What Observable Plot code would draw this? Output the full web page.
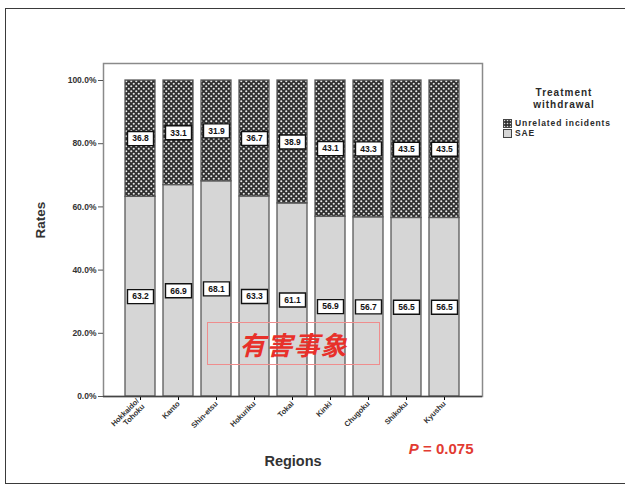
<!DOCTYPE html>
<html>
<head>
<meta charset="utf-8">
<script src="https://cdn.jsdelivr.net/npm/d3@7"></script>
<script src="https://cdn.jsdelivr.net/npm/@observablehq/plot@0.6"></script>
<style>
  html, body { margin: 0; padding: 0; background: #fff; overflow: hidden; }
  #wrap { position: relative; width: 625px; height: 490px; font-family: "Liberation Sans", Arial, sans-serif; }
  #outer { position: absolute; left: 5px; top: 8px; width: 660px; height: 476px; border: 1.5px solid #3a3a3a; box-sizing: border-box; }
  #chart { position: absolute; left: 0; top: 0; }
  #legend { position: absolute; left: 0; top: 0; font-weight: bold; color: #2a2a2a; }
  #legend .title { position: absolute; left: 500px; top: 87px; width: 128px; text-align: center; font-size: 10px; line-height: 11.5px; letter-spacing: 1px; }
  #legend .item { position: absolute; left: 503px; font-size: 8.5px; line-height: 9px; letter-spacing: 0.9px; white-space: nowrap; display: flex; align-items: center; gap: 3px; }
  #legend svg { display: block; }
  #stamp { position: absolute; left: 207px; top: 322px; width: 173px; height: 43px; border: 1px solid #ef8d8d; box-sizing: border-box;
           display: flex; align-items: center; justify-content: center; color: #e8302a; font-family: "Noto Sans CJK JP", sans-serif;
           font-weight: bold; font-style: italic; font-size: 26px; letter-spacing: 1px; }
</style>
</head>
<body>
<div id="wrap">
  <div id="outer"></div>
  <div id="chart"></div>
  <div id="stamp">有害事象</div>
  <div id="legend">
    <div class="title">Treatment<br>withdrawal</div>
    <div class="item" style="top:119px"><svg width="9" height="9"><rect x="0.5" y="0.5" width="8" height="8" fill="url(#chkL)" stroke="#444"/></svg>Unrelated incidents</div>
    <div class="item" style="top:129px"><svg width="9" height="9"><rect x="0.5" y="0.5" width="8" height="8" fill="#d6d6d6" stroke="#444"/></svg>SAE</div>
  </div>
</div>
<script>
const regions = ["Hokkaido/Tohoku", "Kanto", "Shin-etsu", "Hokuriku", "Tokai", "Kinki", "Chugoku", "Shikoku", "Kyushu"];
const saeValues = [63.2, 66.9, 68.1, 63.3, 61.1, 56.9, 56.7, 56.5, 56.5];
const unrelatedValues = [36.8, 33.1, 31.9, 36.7, 38.9, 43.1, 43.3, 43.5, 43.5];
const seriesNames = ["SAE", "Unrelated incidents"];
const yTicks = [0, 20, 40, 60, 80, 100];
const pText = "P = 0.075";

const data = [];
regions.forEach((r, i) => {
  data.push({region: r, type: seriesNames[0], value: saeValues[i]});
  data.push({region: r, type: seriesNames[1], value: unrelatedValues[i]});
});

const boxSymbol = { draw(ctx) { ctx.moveTo(-13, -7); ctx.lineTo(13, -7); ctx.lineTo(13, 7); ctx.lineTo(-13, 7); ctx.closePath(); } };

const font = "Liberation Sans, Arial, sans-serif";
const chart = Plot.plot({
  width: 625,
  height: 490,
  marginLeft: 103,
  marginRight: 143,
  marginTop: 80,
  marginBottom: 94,
  style: { fontFamily: font, background: "transparent", overflow: "visible" },
  x: { domain: regions, range: [103, 482], paddingInner: 0.21, paddingOuter: 0.59, label: null },
  y: { domain: [0, 100], label: null },
  color: { domain: seriesNames, range: ["#d6d6d6", "url(#chk)"] },
  marks: [
    Plot.frame({ stroke: "#8a8a8a", strokeWidth: 1.5, insetTop: -17 }),
    Plot.barY(data, Plot.stackY({ x: "region", y: "value", fill: "type", stroke: "#5a5a5a", strokeWidth: 1.3 })),
    Plot.dot(data, Plot.stackY({ x: "region", y: "value", symbol: boxSymbol, r: 5, fill: "white", stroke: "#111", strokeWidth: 1.4 })),
    Plot.text(data, Plot.stackY({ x: "region", y: "value", text: d => d.value.toFixed(1), fontSize: 8.5, fontWeight: "bold", fill: "#111" })),
    Plot.axisY({ ticks: yTicks, tickFormat: d => d.toFixed(1) + "%", tickSize: 5, tickPadding: 2, fontSize: 8.5, fontWeight: "bold", label: null, stroke: "#555", fill: "#333" }),
    Plot.axisX({ tickRotate: -45, tickSize: 4, tickPadding: 2, fontSize: 7.5, fontWeight: "bold", label: null, fill: "#333",
                 tickFormat: d => d.replace("/", "/\n"), lineHeight: 1.05 }),
    Plot.ruleY([0], { stroke: "#444", strokeWidth: 1.3 }),
    Plot.text(["Rates"], { frameAnchor: "left", dx: -63, rotate: -90, fontSize: 13.5, fontWeight: "bold", fill: "#333" }),
    Plot.text(["Regions"], { frameAnchor: "bottom", dy: 69, fontSize: 14.5, fontWeight: "bold", fill: "#333" }),
    Plot.text([pText], { frameAnchor: "bottom-right", dx: -9, dy: 57, textAnchor: "end", fontSize: 15, fontWeight: "bold", fill: "#e23b32" })
  ]
});

const defs = `
<defs>
  <pattern id="chk" width="5" height="5" patternUnits="userSpaceOnUse">
    <rect width="5" height="5" fill="#2f2f2f"/>
    <circle cx="1.25" cy="1.25" r="1.05" fill="#e8e8e8"/>
    <circle cx="3.75" cy="3.75" r="1.05" fill="#e8e8e8"/>
  </pattern>
  <pattern id="chkL" width="3" height="3" patternUnits="userSpaceOnUse">
    <rect width="3" height="3" fill="#333"/>
    <circle cx="1.5" cy="1.5" r="0.8" fill="#ddd"/>
  </pattern>
</defs>`;
chart.insertAdjacentHTML("afterbegin", defs);
chart.querySelectorAll("text").forEach(t => {
  if (t.textContent === pText) {
    t.textContent = "";
    const ns = "http://www.w3.org/2000/svg";
    const a = document.createElementNS(ns, "tspan");
    a.setAttribute("font-style", "italic");
    a.textContent = pText.slice(0, 1);
    const b = document.createElementNS(ns, "tspan");
    b.textContent = pText.slice(1);
    t.appendChild(a); t.appendChild(b);
  }
});
document.getElementById("chart").appendChild(chart);
</script>
</body>
</html>
